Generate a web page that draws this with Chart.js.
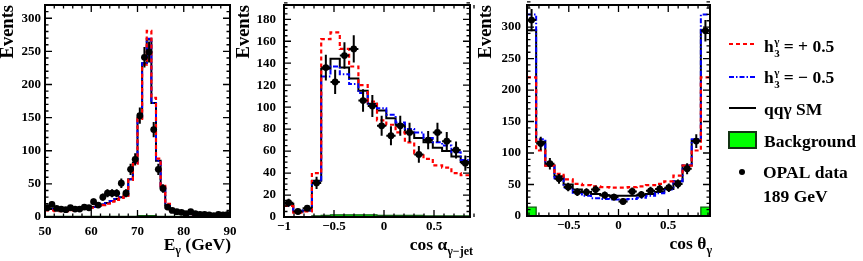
<!DOCTYPE html>
<html>
<head>
<meta charset="utf-8">
<script src="https://cdn.jsdelivr.net/npm/chart.js@4"></script>
<style>
  html, body { margin: 0; padding: 0; background: #fff; }
  #wrap { position: relative; width: 863px; height: 261px; overflow: hidden; }
  #wrap canvas { position: absolute; left: 0; top: 0; }
</style>
</head>
<body>
<div id="wrap">
  <canvas id="cE" width="863" height="261"></canvas>
  <canvas id="cA" width="863" height="261"></canvas>
  <canvas id="cT" width="863" height="261"></canvas>
</div>
<script>
const FONT = "'Liberation Serif', 'Times New Roman', serif";

// photon energy, 1 GeV bins from 50 to 90
const eLo = 50, eStep = 1;
const eData  = [14, 19, 13, 12, 11, 14, 12, 12, 15, 14, 23, 18, 30, 36, 36, 36, 51, 36, 72, 87,
                153, 241, 249, 132, 72, 43, 15, 10, 8, 7, 5, 8, 5, 4, 4, 3, 2, 4, 3, 4];
const eSM    = [12, 12, 12, 12, 11, 12, 12, 13, 13, 14, 15, 17, 19, 21, 24, 27, 30, 33, 57, 82,
                150, 232, 268, 172, 85, 45, 18, 10, 7, 6, 5, 4, 4, 3, 3, 3, 3, 3, 3, 3];
const ePlus  = [10, 10, 9, 9, 9, 10, 11, 12, 13, 14, 14, 16, 18, 20, 23, 26, 29, 32, 56, 80,
                148, 230, 281, 180, 88, 47, 20, 11, 8, 6, 5, 4, 4, 3, 3, 3, 3, 3, 3, 3];
const eMinus = [12, 12, 12, 12, 11, 12, 12, 13, 13, 14, 15, 17, 19, 21, 24, 27, 30, 33, 57, 82,
                150, 232, 269, 172, 85, 45, 18, 10, 7, 6, 5, 4, 4, 3, 3, 3, 3, 3, 3, 3];
const eBkg   = [1, 1, 1, 1, 1, 1, 1, 1, 1, 1, 1, 1, 1, 1, 1, 1, 1, 1, 1, 1,
                2, 2, 2, 2, 1, 1, 1, 1, 1, 1, 1, 1, 1, 1, 1, 1, 1, 1, 1, 1];
const eTicks = [50, 60, 70, 80, 90];
const eYTicks = [0, 50, 100, 150, 200, 250, 300];

// cos alpha(gamma-jet), 20 bins from -1
const aLo = -1, aStep = 0.093;
const aData  = [13, 5, 8, 31, 136, 123, 147, 153, 106, 101, 83, 74, 83, 77, 57, 70, 77, 69, 61, 49];
const aSM    = [12, 5, 6, 33, 135, 144, 136, 126, 115, 103, 97, 90, 84, 77, 72, 68, 63, 60, 55, 50];
const aPlus  = [10, 4, 5, 40, 162, 168, 153, 137, 120, 105, 88, 84, 77, 68, 58, 53, 47, 45, 40, 38];
const aMinus = [10, 5, 6, 32, 128, 137, 130, 121, 113, 102, 99, 93, 86, 80, 77, 72, 68, 65, 59, 52];
const aBkg   = [0, 0, 0, 1, 1.5, 2, 2, 2, 2, 2, 1.5, 1.5, 1.5, 1.5, 1.5, 1, 1, 1, 1, 1];
const aTicks = [-1, -0.5, 0, 0.5];
const aYTicks = [0, 20, 40, 60, 80, 100, 120, 140, 160, 180];

// cos theta(gamma), 20 bins
const tLo = -0.92, tStep = 0.092;
const tData  = [311, 115, 83, 59, 46, 38, 38, 42, 33, 30, 23, 39, 34, 40, 43, 45, 51, 75, 119, 294];
const tSM    = [295, 118, 80, 63, 50, 42, 38, 35, 33, 32, 32, 32, 33, 35, 38, 43, 55, 80, 120, 295];
const tPlus  = [220, 104, 80, 67, 58, 51, 49, 47, 46, 45, 45, 46, 47, 49, 51, 55, 64, 80, 104, 220];
const tMinus = [320, 122, 82, 60, 45, 37, 32, 28, 27, 26, 26, 27, 29, 32, 36, 42, 55, 80, 122, 320];
const tBkg   = [14, 0.5, 0.5, 0.5, 0.5, 0.5, 0.5, 0.5, 0.5, 0.5, 0.5, 0.5, 0.5, 0.5, 0.5, 0.5, 0.5, 0.5, 0.5, 14];
const tTicks = [-0.5, 0, 0.5];
const tYTicks = [0, 50, 100, 150, 200, 250, 300];

function bold(size) { return 'bold ' + size + 'px ' + FONT; }

function hist(lo, step, vals) {
  const pts = vals.map((v, i) => ({ x: lo + i * step, y: v }));
  pts.push({ x: lo + vals.length * step, y: vals[vals.length - 1] });
  return pts;
}
function centres(lo, step, vals) {
  return vals.map((v, i) => ({ x: lo + (i + 0.5) * step, y: v }));
}
function fmt(v) {
  return v < 0 ? '\u2212' + String(-v) : String(v);
}

// ROOT style frame with ticks pointing inwards on all four sides
const frameTicks = {
  id: 'frameTicks',
  afterDraw(chart, args, o) {
    const { ctx, chartArea: a, scales: { x, y } } = chart;
    ctx.save();
    ctx.strokeStyle = '#000';
    ctx.lineWidth = 1.3;
    ctx.beginPath();
    const n1 = Math.round((x.max - o.xFirst) / o.xMinor);
    for (let i = 0; i <= n1; i++) {
      const v = o.xFirst + i * o.xMinor;
      const px = x.getPixelForValue(v);
      const major = o.xTicks.some(t => Math.abs(t - v) < 1e-6);
      const len = major ? 7 : 3.5;
      ctx.moveTo(px, a.bottom); ctx.lineTo(px, a.bottom - len);
      ctx.moveTo(px, a.top); ctx.lineTo(px, a.top + len);
    }
    const n2 = Math.round(y.max / o.yMinor);
    for (let i = 0; i <= n2; i++) {
      const v = i * o.yMinor;
      const py = y.getPixelForValue(v);
      const major = o.yTicks.includes(v);
      const len = major ? 7 : 3.5;
      ctx.moveTo(a.left, py); ctx.lineTo(a.left + len, py);
      ctx.moveTo(a.right, py); ctx.lineTo(a.right - len, py);
    }
    ctx.stroke();
    ctx.lineWidth = 2;
    ctx.strokeRect(a.left, a.top, a.right - a.left, a.bottom - a.top);
    ctx.restore();
  }
};

// sqrt(N) error bars on the data points (dataset 0)
const errBars = {
  id: 'errBars',
  afterDatasetsDraw(chart, args, o) {
    const { ctx, scales: { x, y } } = chart;
    ctx.save();
    ctx.strokeStyle = '#000';
    ctx.lineWidth = 2;
    ctx.beginPath();
    chart.data.datasets[0].data.forEach(p => {
      const e = Math.sqrt(p.y);
      const px = x.getPixelForValue(p.x), py = y.getPixelForValue(p.y);
      ctx.moveTo(px, y.getPixelForValue(p.y - e));
      ctx.lineTo(px, y.getPixelForValue(p.y + e));
      ctx.moveTo(x.getPixelForValue(p.x - o.half), py);
      ctx.lineTo(x.getPixelForValue(p.x + o.half), py);
    });
    ctx.stroke();
    ctx.restore();
  }
};

// x axis title with subscripts, right aligned
const xTitle = {
  id: 'xTitle',
  afterDraw(chart, args, o) {
    const ctx = chart.ctx;
    ctx.save();
    ctx.fillStyle = '#000';
    ctx.textBaseline = 'alphabetic';
    let w = 0;
    o.parts.forEach(p => { ctx.font = bold(p[1]); w += ctx.measureText(p[0]).width; });
    let x = o.right - w;
    o.parts.forEach(p => {
      ctx.font = bold(p[1]);
      ctx.fillText(p[0], x, o.baseline + p[2]);
      x += ctx.measureText(p[0]).width;
    });
    ctx.restore();
  }
};

function drawH(ctx, x, y, rest) {
  ctx.font = bold(17.5);
  ctx.fillText('h', x, y);
  let cx = x + ctx.measureText('h').width + 0.5;
  ctx.font = bold(11);
  ctx.fillText('\u03b3', cx, y - 7);
  ctx.fillText('3', cx, y + 5);
  cx += Math.max(ctx.measureText('\u03b3').width, ctx.measureText('3').width) + 4;
  ctx.font = bold(17.5);
  ctx.fillText(rest, cx, y);
}

const sideLegend = {
  id: 'sideLegend',
  afterDraw(chart) {
    const ctx = chart.ctx;
    ctx.save();
    ctx.lineWidth = 2;
    const sample = (y, color, dash) => {
      ctx.strokeStyle = color;
      ctx.setLineDash(dash);
      ctx.beginPath(); ctx.moveTo(729, y); ctx.lineTo(756, y); ctx.stroke();
    };
    sample(44, '#ff0000', [4, 3]);
    sample(77, '#0000ff', [5, 2, 1.5, 2]);
    sample(108, '#000000', []);
    ctx.setLineDash([]);
    ctx.fillStyle = '#00ff00';
    ctx.fillRect(729, 132, 27, 16);
    ctx.strokeStyle = '#123312';
    ctx.strokeRect(729, 132, 27, 16);
    ctx.fillStyle = '#000';
    ctx.beginPath(); ctx.arc(742, 172, 3, 0, 2 * Math.PI); ctx.fill();
    ctx.textBaseline = 'alphabetic';
    drawH(ctx, 764, 52, '= + 0.5');
    drawH(ctx, 764, 83, '= \u2212 0.5');
    ctx.font = bold(17.5);
    ctx.fillText('qq\u03b3 SM', 764, 115);
    ctx.fillText('Background', 764, 147);
    ctx.fillText('OPAL data', 763, 178);
    ctx.fillText('189 GeV', 763, 202);
    ctx.restore();
  }
};

function makeChart(id, c) {
  const yWidth = c.box.left - c.titleLeft;
  const xHeight = 40;
  return new Chart(document.getElementById(id), {
    type: 'line',
    data: {
      datasets: [
        { data: centres(c.lo, c.step, c.data), showLine: false, pointRadius: 3.4,
          pointBackgroundColor: '#000', pointBorderColor: '#000', pointBorderWidth: 0 },
        { data: hist(c.lo, c.step, c.plus), stepped: true, borderColor: '#ff0000',
          borderWidth: 2.2, borderDash: [4, 3], pointRadius: 0 },
        { data: hist(c.lo, c.step, c.minus), stepped: true, borderColor: '#0000ff',
          borderWidth: 2, borderDash: [5, 2, 1.5, 2], pointRadius: 0 },
        { data: hist(c.lo, c.step, c.sm), stepped: true, borderColor: '#000',
          borderWidth: 2, pointRadius: 0 },
        { data: hist(c.lo, c.step, c.bkg), stepped: true, borderColor: '#0b5a0b',
          backgroundColor: '#00ff00', fill: 'origin', borderWidth: 1.3, pointRadius: 0 }
      ]
    },
    options: {
      responsive: false,
      animation: false,
      events: [],
      layout: { padding: { left: c.titleLeft, right: 863 - c.box.right, top: c.box.top,
                           bottom: 261 - c.box.bottom - xHeight } },
      scales: {
        x: {
          type: 'linear', min: c.xMin, max: c.xMax,
          grid: { display: false, drawTicks: false }, border: { display: false },
          afterBuildTicks: s => { s.ticks = c.xTicks.map(v => ({ value: v })); },
          afterFit: s => { s.height = xHeight; s.paddingLeft = 0; s.paddingRight = 0; },
          ticks: { autoSkip: false, maxRotation: 0, padding: c.xPad, color: '#000',
                   font: { family: FONT, size: 13, weight: 'bold' }, callback: v => fmt(v) }
        },
        y: {
          min: 0, max: c.yMax,
          grid: { display: false, drawTicks: false }, border: { display: false },
          afterBuildTicks: s => { s.ticks = c.yTicks.map(v => ({ value: v })); },
          afterFit: s => { s.width = yWidth; s.paddingTop = 0; s.paddingBottom = 0; },
          ticks: { autoSkip: false, padding: c.yPad, color: '#000',
                   font: { family: FONT, size: 13, weight: 'bold' }, callback: v => fmt(v) },
          title: { display: true, text: 'Events', align: 'end', color: '#000', padding: 0,
                   font: { family: FONT, size: 18.5, weight: 'bold', lineHeight: 1 } }
        }
      },
      plugins: {
        legend: { display: false },
        tooltip: { enabled: false },
        frameTicks: { xFirst: c.xFirst, xMinor: c.xMinor, yMinor: c.yMinor,
                      xTicks: c.xTicks, yTicks: c.yTicks },
        errBars: { half: c.step / 2 },
        xTitle: c.title
      }
    },
    plugins: c.extra ? [frameTicks, errBars, xTitle, sideLegend] : [frameTicks, errBars, xTitle]
  });
}

makeChart('cE', {
  lo: eLo, step: eStep, data: eData, sm: eSM, plus: ePlus, minus: eMinus, bkg: eBkg,
  xMin: 50, xMax: 90, yMax: 320, xTicks: eTicks, yTicks: eYTicks,
  xFirst: 50, xMinor: 2, yMinor: 10,
  box: { left: 45, right: 230, top: 5, bottom: 217 }, titleLeft: -1, yPad: 4, xPad: 7,
  title: { right: 231, baseline: 250, parts: [['E', 17.5, 0], ['\u03b3', 12, 4], [' (GeV)', 17.5, 0]] }
});

makeChart('cA', {
  lo: aLo, step: aStep, data: aData, sm: aSM, plus: aPlus, minus: aMinus, bkg: aBkg,
  xMin: -1, xMax: 0.86, yMax: 193, xTicks: aTicks, yTicks: aYTicks,
  xFirst: -1, xMinor: 0.1, yMinor: 5,
  box: { left: 284, right: 470, top: 5, bottom: 217 }, titleLeft: 235, yPad: 8, xPad: 2,
  title: { right: 473, baseline: 250, parts: [['cos \u03b1', 17.5, 0], ['\u03b3\u2212jet', 12, 5]] }
});

makeChart('cT', {
  lo: tLo, step: tStep, data: tData, sm: tSM, plus: tPlus, minus: tMinus, bkg: tBkg,
  xMin: -0.92, xMax: 0.92, yMax: 335, xTicks: tTicks, yTicks: tYTicks,
  xFirst: -0.9, xMinor: 0.1, yMinor: 10,
  box: { left: 527, right: 710, top: 5, bottom: 216 }, titleLeft: 477, yPad: 6, xPad: 2,
  title: { right: 712, baseline: 249, parts: [['cos \u03b8', 17.5, 0], ['\u03b3', 12, 5]] },
  extra: true
});
</script>
</body>
</html>
